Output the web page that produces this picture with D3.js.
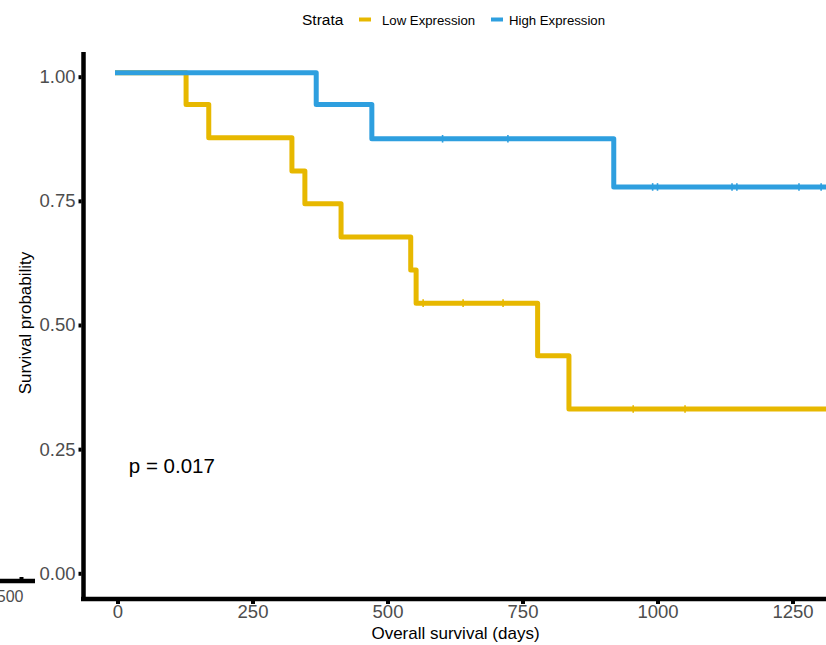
<!DOCTYPE html>
<html><head><meta charset="utf-8">
<script src="https://cdn.jsdelivr.net/npm/d3@7"></script>
<style>
html,body{margin:0;padding:0;background:#fff;}
svg{display:block;font-family:"Liberation Sans",Arial,Helvetica,sans-serif;}
</style></head>
<body>
<svg id="c" width="826" height="645"></svg>
<script>
// ---- data ----
const strata = ["Low Expression", "High Expression"];
const colors = ["#E7B800", "#2E9FDF"];
const lowTime = [0, 127, 169, 323, 347, 414, 543, 553, 778, 836, 1330];
const lowSurv = [1.008, 0.944, 0.877, 0.810, 0.744, 0.677, 0.611, 0.544, 0.438, 0.331, 0.331];
const lowCensor = [566, 640, 714, 955, 1051];
const highTime = [0, 368, 471, 919, 1330];
const highSurv = [1.008, 0.944, 0.875, 0.778, 0.778];
const highCensor = [602, 723, 991, 1000, 1138, 1147, 1262, 1303];
const xTicks = [0, 250, 500, 750, 1000, 1250];
const yTicks = [0, 0.25, 0.5, 0.75, 1];
const pLabel = "p = 0.017";

const svg = d3.select("#c");
const x = d3.scaleLinear().domain([0, 1250]).range([117.5, 792.5]);
const y = d3.scaleLinear().domain([0, 1]).range([573.3, 76.7]);

// clip
svg.append("defs").append("clipPath").attr("id","clip")
  .append("rect").attr("x",86).attr("y",40).attr("width",740).attr("height",556);

// curves
function stepLine(times, surv){
  const pts = times.map((t,i)=>[x(t), y(surv[i])]);
  return d3.line().curve(d3.curveStepAfter)(pts);
}
const g = svg.append("g").attr("clip-path","url(#clip)");
const series = [
  {t: lowTime, s: lowSurv, c: lowCensor, col: colors[0]},
  {t: highTime, s: highSurv, c: highCensor, col: colors[1]}
];
series.forEach(ser=>{
  g.append("path").attr("d", stepLine(ser.t, ser.s))
    .attr("fill","none").attr("stroke", ser.col).attr("stroke-width",5)
    .attr("stroke-linejoin","round").attr("stroke-linecap","square");
  const survAt = t => { let v = ser.s[0]; ser.t.forEach((tt,i)=>{ if (tt<=t) v = ser.s[i]; }); return v; };
  g.selectAll(null).data(ser.c).enter().append("line")
    .attr("x1", d=>x(d)).attr("x2", d=>x(d))
    .attr("y1", d=>y(survAt(d))-3.8).attr("y2", d=>y(survAt(d))+3.8)
    .attr("stroke", ser.col).attr("stroke-width",1.6);
});

// axes
const yAxis = d3.axisLeft(y).tickValues(yTicks).tickFormat(d3.format(".2f")).tickSize(3).tickPadding(4);
const ya = svg.append("g").attr("transform","translate(83.5,0)").call(yAxis);
ya.select(".domain").remove();
ya.append("line").attr("x1",0).attr("x2",0).attr("y1",52).attr("y2",601).attr("stroke","#000").attr("stroke-width",4.5);
ya.selectAll(".tick line").attr("stroke","#000").attr("stroke-width",4).attr("x1",-2).attr("x2",-5);
ya.selectAll(".tick text").attr("x",-8).attr("fill","#4d4d4d").style("font-size","18.5px").style("font-family","Liberation Sans, Arial, sans-serif");

const xAxis = d3.axisBottom(x).tickValues(xTicks).tickFormat(d3.format("d")).tickSize(3).tickPadding(5);
const xa = svg.append("g").attr("transform","translate(0,599)").call(xAxis);
xa.select(".domain").remove();
xa.append("line").attr("x1",81).attr("x2",826).attr("y1",0).attr("y2",0).attr("stroke","#000").attr("stroke-width",4.5);
xa.selectAll(".tick line").attr("stroke","#000").attr("stroke-width",4).attr("y1",2).attr("y2",5);
xa.selectAll(".tick text").attr("y",6).attr("fill","#4d4d4d").style("font-size","18.5px").style("font-family","Liberation Sans, Arial, sans-serif");

// axis titles
svg.append("text").attr("x",455.5).attr("y",639).attr("text-anchor","middle")
  .style("font-size","17px").attr("fill","#000").text("Overall survival (days)");
svg.append("text").attr("transform","translate(31,323) rotate(-90)").attr("text-anchor","middle")
  .style("font-size","17px").attr("fill","#000").text("Survival probability");

// p value
svg.append("text").attr("x", x(21)).attr("y", y(0.216)+7).style("font-size","20.5px").attr("fill","#000").text(pLabel);

// legend
const lg = svg.append("g");
lg.append("text").attr("x",302).attr("y",25).style("font-size","15.5px").attr("fill","#000").text("Strata");
const keyX = [359, 491], labX = [382, 509];
strata.forEach((s,i)=>{
  lg.append("line").attr("x1",keyX[i]).attr("x2",keyX[i]+12).attr("y1",19.5).attr("y2",19.5)
    .attr("stroke",colors[i]).attr("stroke-width",4);
  lg.append("text").attr("x",labX[i]).attr("y",24.5).style("font-size","13.2px").attr("fill","#000").text(s);
});

// fragment of neighbouring panel at lower-left
svg.append("line").attr("x1",0).attr("x2",35).attr("y1",581).attr("y2",581).attr("stroke","#000").attr("stroke-width",4.5);
svg.append("line").attr("x1",21.5).attr("x2",21.5).attr("y1",577).attr("y2",580).attr("stroke","#000").attr("stroke-width",4);
svg.append("text").attr("x",23.5).attr("y",602).attr("text-anchor","end").style("font-size","16px").attr("fill","#4d4d4d").text("500");
</script>
</body></html>
